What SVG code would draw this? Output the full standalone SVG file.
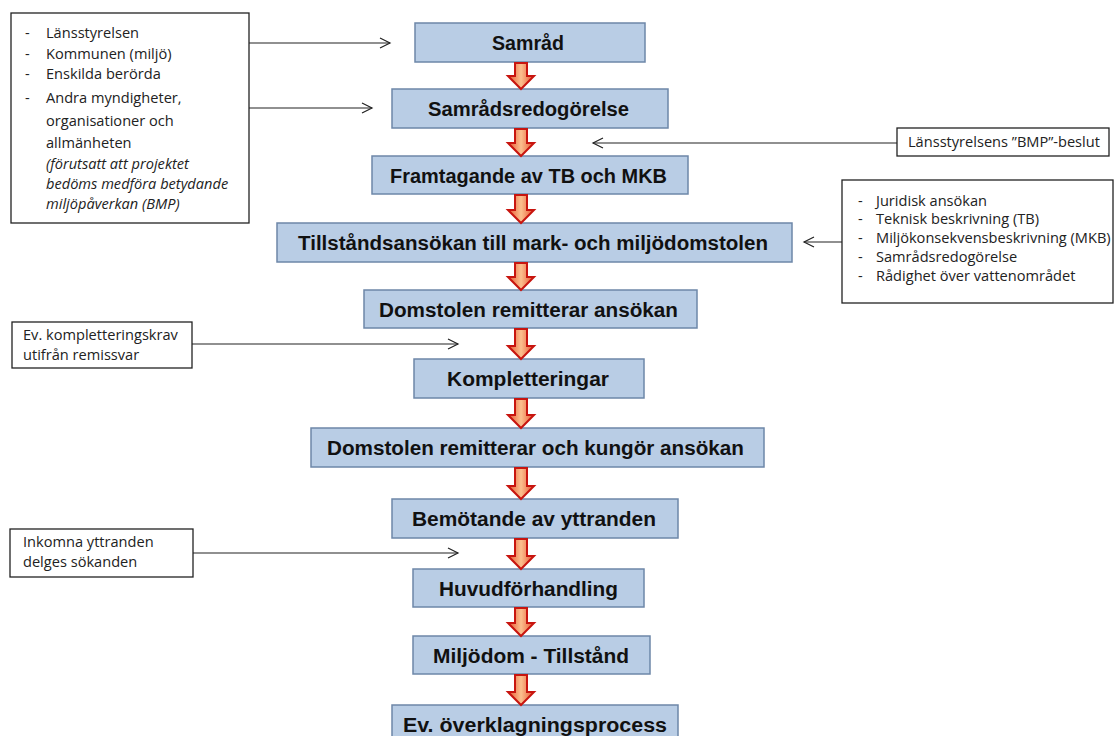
<svg xmlns="http://www.w3.org/2000/svg" width="1115" height="736" viewBox="0 0 1115 736">
<defs>
<style>
.step{fill:#b9cde5;stroke:#6d87a8;stroke-width:1.5}
.stept{font-family:"Liberation Sans",Arial,sans-serif;font-weight:bold;font-size:19.5px;fill:#111;text-anchor:middle}
.note{fill:#fff;stroke:#222;stroke-width:1.3}
.nt{font-family:"Open Sans","Liberation Sans",sans-serif;font-size:14.6px;fill:#222}
.it{font-style:italic}
.flow{fill:url(#flowGrad);stroke:#c8150f;stroke-width:2;stroke-linejoin:miter}
.link{fill:none;stroke:#222;stroke-width:1.2}
</style>
<linearGradient id="flowGrad" x1="0" y1="0" x2="1" y2="0">
<stop offset="0" stop-color="#e8522e"/>
<stop offset="0.5" stop-color="#fbc08e"/>
<stop offset="1" stop-color="#e8522e"/>
</linearGradient>
<marker id="open" markerUnits="userSpaceOnUse" markerWidth="14" markerHeight="14" refX="11" refY="6" orient="auto">
<path d="M1,1 L11,6 L1,11" fill="none" stroke="#222" stroke-width="1.2"/>
</marker>
</defs>
<rect width="1115" height="736" fill="#fff"/>

<g id="n-samrad"><rect class="step" x="415" y="23" width="230" height="39"/><text class="stept" x="528" y="49.5" textLength="72" lengthAdjust="spacingAndGlyphs">Samråd</text></g>
<g id="n-samradsredogorelse"><rect class="step" x="392" y="89" width="276" height="39"/><text class="stept" x="528.5" y="115.5" textLength="201" lengthAdjust="spacingAndGlyphs">Samrådsredogörelse</text></g>
<g id="n-framtagande"><rect class="step" x="372" y="156" width="316" height="38"/><text class="stept" x="528.5" y="182.5" textLength="277" lengthAdjust="spacingAndGlyphs">Framtagande av TB och MKB</text></g>
<g id="n-tillstandsansokan"><rect class="step" x="277" y="223" width="515" height="39"/><text class="stept" x="533" y="249.5" textLength="470" lengthAdjust="spacingAndGlyphs">Tillståndsansökan till mark- och miljödomstolen</text></g>
<g id="n-remitterar"><rect class="step" x="364" y="290" width="333" height="38"/><text class="stept" x="528.5" y="316.5" textLength="299" lengthAdjust="spacingAndGlyphs">Domstolen remitterar ansökan</text></g>
<g id="n-kompletteringar"><rect class="step" x="414" y="359" width="230" height="39"/><text class="stept" x="528" y="385.5" textLength="162" lengthAdjust="spacingAndGlyphs">Kompletteringar</text></g>
<g id="n-kungor"><rect class="step" x="311" y="428" width="453" height="39"/><text class="stept" x="535.5" y="454.5" textLength="417" lengthAdjust="spacingAndGlyphs">Domstolen remitterar och kungör ansökan</text></g>
<g id="n-bemotande"><rect class="step" x="392" y="499" width="286" height="39"/><text class="stept" x="534" y="525.5" textLength="244" lengthAdjust="spacingAndGlyphs">Bemötande av yttranden</text></g>
<g id="n-huvudforhandling"><rect class="step" x="413" y="569" width="231" height="38"/><text class="stept" x="528.5" y="595.5" textLength="179" lengthAdjust="spacingAndGlyphs">Huvudförhandling</text></g>
<g id="n-miljodom"><rect class="step" x="413" y="636" width="237" height="38"/><text class="stept" x="531" y="662.5" textLength="196" lengthAdjust="spacingAndGlyphs">Miljödom - Tillstånd</text></g>
<g id="n-overklagning"><rect class="step" x="392" y="705" width="286" height="40"/><text class="stept" x="535" y="732" textLength="264" lengthAdjust="spacingAndGlyphs">Ev. överklagningsprocess</text></g>

<g id="note-remissinstanser">
<rect class="note" x="11" y="13" width="238" height="210"/>
<text class="nt" x="25" y="38">-</text><text class="nt" x="46" y="38">Länsstyrelsen</text>
<text class="nt" x="25" y="59">-</text><text class="nt" x="46" y="59">Kommunen (miljö)</text>
<text class="nt" x="25" y="79">-</text><text class="nt" x="46" y="79">Enskilda berörda</text>
<text class="nt" x="25" y="103">-</text><text class="nt" x="46" y="103">Andra myndigheter,</text>
<text class="nt" x="46" y="126">organisationer och</text>
<text class="nt" x="46" y="148">allmänheten</text>
<text class="nt it" x="46" y="169">(förutsatt att projektet</text>
<text class="nt it" x="46" y="189">bedöms medföra betydande</text>
<text class="nt it" x="46" y="209">miljöpåverkan (BMP)</text>
</g>

<g id="note-bmp-beslut">
<rect class="note" x="897" y="128" width="212" height="28"/>
<text class="nt" x="908" y="147">Länsstyrelsens ”BMP”-beslut</text>
</g>

<g id="note-ansokan-innehall">
<rect class="note" x="842" y="180" width="271" height="123"/>
<text class="nt" x="858" y="206">-</text><text class="nt" x="876" y="206">Juridisk ansökan</text>
<text class="nt" x="858" y="224">-</text><text class="nt" x="876" y="224">Teknisk beskrivning (TB)</text>
<text class="nt" x="858" y="243">-</text><text class="nt" x="876" y="243">Miljökonsekvensbeskrivning (MKB)</text>
<text class="nt" x="858" y="262">-</text><text class="nt" x="876" y="262">Samrådsredogörelse</text>
<text class="nt" x="858" y="281">-</text><text class="nt" x="876" y="281">Rådighet över vattenområdet</text>
</g>

<g id="note-kompletteringskrav">
<rect class="note" x="12" y="322" width="180" height="46"/>
<text class="nt" x="23" y="340">Ev. kompletteringskrav</text>
<text class="nt" x="23" y="360">utifrån remissvar</text>
</g>

<g id="note-yttranden">
<rect class="note" x="10" y="529" width="183" height="48"/>
<text class="nt" x="23" y="547">Inkomna yttranden</text>
<text class="nt" x="23" y="567">delges sökanden</text>
</g>

<g id="connectors">
<line class="link" x1="249" y1="43" x2="390" y2="43" marker-end="url(#open)"/>
<line class="link" x1="249" y1="108" x2="372" y2="108" marker-end="url(#open)"/>
<line class="link" x1="897" y1="143" x2="593" y2="143" marker-end="url(#open)"/>
<line class="link" x1="842" y1="242" x2="804" y2="242" marker-end="url(#open)"/>
<line class="link" x1="192" y1="344" x2="458" y2="344" marker-end="url(#open)"/>
<line class="link" x1="193" y1="553" x2="458" y2="553" marker-end="url(#open)"/>
<path class="flow" d="M515,63 L527,63 L527,76 L534,76 L521,89 L508,76 L515,76 Z"/>
<path class="flow" d="M515,129 L527,129 L527,143 L534,143 L521,156 L508,143 L515,143 Z"/>
<path class="flow" d="M515,195 L527,195 L527,210 L534,210 L521,223 L508,210 L515,210 Z"/>
<path class="flow" d="M515,263 L527,263 L527,277 L534,277 L521,290 L508,277 L515,277 Z"/>
<path class="flow" d="M515,329 L527,329 L527,346 L534,346 L521,359 L508,346 L515,346 Z"/>
<path class="flow" d="M515,399 L527,399 L527,415 L534,415 L521,428 L508,415 L515,415 Z"/>
<path class="flow" d="M515,468 L527,468 L527,486 L534,486 L521,499 L508,486 L515,486 Z"/>
<path class="flow" d="M515,539 L527,539 L527,556 L534,556 L521,569 L508,556 L515,556 Z"/>
<path class="flow" d="M515,608 L527,608 L527,623 L534,623 L521,636 L508,623 L515,623 Z"/>
<path class="flow" d="M515,675 L527,675 L527,692 L534,692 L521,705 L508,692 L515,692 Z"/>
</g>
</svg>
